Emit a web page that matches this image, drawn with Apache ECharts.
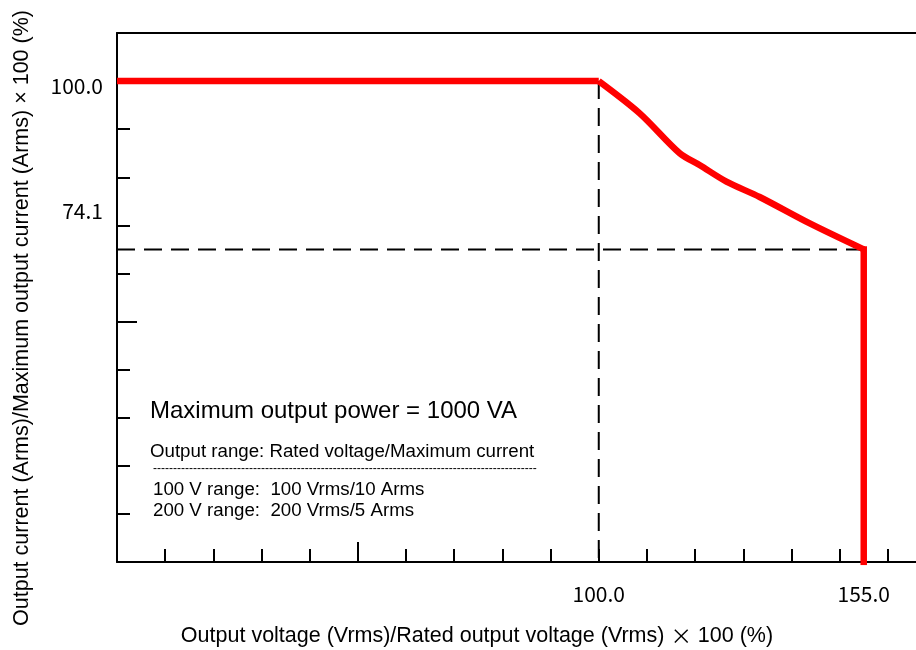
<!DOCTYPE html>
<html>
<head>
<meta charset="utf-8">
<script src="https://cdn.jsdelivr.net/npm/echarts@6/dist/echarts.min.js"></script>
<style>
  html, body { margin: 0; padding: 0; background: #fff; }
  #chart { width: 916px; height: 650px; }
</style>
</head>
<body>
<div id="chart"></div>
<script>
// Constant-current section (% of rated voltage, % of maximum current)
const flatX = [0, 100];
const flatY = [100, 100];
// Constant-power section up to the voltage limit
const powerX = [100, 108.5, 116.8, 121, 126.5, 133.4, 143.8, 155];
const powerY = [100, 93.3, 85.0, 82.5, 79.1, 75.9, 70.4, 65];
// Voltage limit drop
const dropX = [155, 155];
const dropY = [65, 0];

// Guide lines: rated voltage and current at the voltage limit
const ratedGuideX = [100, 100];
const ratedGuideY = [100, 0];
const limitGuideX = [0, 155];
const limitGuideY = [65, 65];

// Axis ticks and labelled values
const xTickValues = [10, 20, 30, 40, 60, 70, 80, 90, 100, 110, 120, 130, 140, 150, 160];
const yTickValues = [10, 20, 30, 40, 60, 70, 80, 90, 100];
const majorTickValues = [50];
const xLabelValues = [100, 155];
const yLabelValues = [74.1, 100];

const xTitleParts = ['Output voltage (Vrms)/Rated output voltage (Vrms) ', '\u00d7', ' 100 (%)'];
const yTitle = 'Output current (Arms)/Maximum output current (Arms) \u00d7 100 (%)';
const noteLines = [
  'Maximum output power = 1000 VA',
  'Output range: Rated voltage/Maximum current',
  '100 V range:  100 Vrms/10 Arms',
  '200 V range:  200 Vrms/5 Arms'
];

const pairs = (xs, ys) => xs.map((x, i) => [x, ys[i]]);

const chart = echarts.init(document.getElementById('chart'), null, { renderer: 'canvas' });

const sansFont = 'Liberation Sans, Arial, sans-serif';
const tickRich = {
  v: { fontFamily: 'Noto Sans CJK JP', fontSize: 21, color: '#000', padding: [10, 0, 0, 0] }
};
const tickRichX = {
  v: { fontFamily: 'Noto Sans CJK JP', fontSize: 21, color: '#000' }
};
const axisPen = { color: '#000', width: 2 };
const redLine = { color: '#ff0000', width: 6.5, cap: 'butt', join: 'miter' };
const guideLine = { color: '#000', width: 2, type: [18, 9] };

// an extra axis that only draws tick marks
const tickOnlyX = (values, length) => ({
  type: 'value', min: 0, max: 170, position: 'bottom',
  axisLine: { show: false },
  axisTick: { show: true, inside: true, length, customValues: values, lineStyle: axisPen },
  axisLabel: { show: false },
  splitLine: { show: false }
});

chart.setOption({
  animation: false,
  backgroundColor: '#fff',
  // the frame runs on past the right edge of the canvas
  grid: { left: 117, top: 33, width: 819, height: 529, show: false, outerBoundsMode: 'none' },
  xAxis: [
    {
      type: 'value', min: 0, max: 170, interval: 10,
      axisLine: { show: true, lineStyle: axisPen },
      axisTick: { show: false },
      splitLine: { show: false },
      axisLabel: {
        show: true, customValues: xLabelValues, margin: 22,
        formatter: v => '{v|' + v.toFixed(1) + '}', rich: tickRichX
      }
    },
    tickOnlyX(xTickValues, 13),
    tickOnlyX(majorTickValues, 20),
    {
      // top frame line
      type: 'value', min: 0, max: 170, position: 'top',
      axisLine: { show: true, lineStyle: axisPen },
      axisTick: { show: false },
      axisLabel: { show: false },
      splitLine: { show: false }
    }
  ],
  yAxis: [
    {
      type: 'value', min: 0, max: 110, interval: 10,
      axisLine: { show: true, lineStyle: axisPen },
      axisTick: { show: true, inside: true, length: 13, customValues: yTickValues, lineStyle: axisPen },
      splitLine: { show: false },
      axisLabel: {
        show: true, customValues: yLabelValues, margin: 14,
        formatter: v => '{v|' + v.toFixed(1) + '}', rich: tickRich
      }
    },
    {
      type: 'value', min: 0, max: 110, position: 'left',
      axisLine: { show: false },
      axisTick: { show: true, inside: true, length: 20, customValues: majorTickValues, lineStyle: axisPen },
      axisLabel: { show: false },
      splitLine: { show: false }
    }
  ],
  series: [
    { type: 'line', data: pairs(ratedGuideX, ratedGuideY), symbol: 'none', silent: true, lineStyle: guideLine },
    { type: 'line', data: pairs(limitGuideX, limitGuideY), symbol: 'none', silent: true, lineStyle: guideLine },
    { type: 'line', data: pairs(flatX, flatY), symbol: 'none', silent: true, lineStyle: redLine },
    {
      type: 'line', data: pairs(powerX, powerY), symbol: 'none', silent: true,
      smooth: 0.3, lineStyle: redLine
    },
    {
      type: 'line', data: pairs(dropX, dropY), symbol: 'none', silent: true,
      lineStyle: { ...redLine, cap: 'square' }
    }
  ],
  graphic: [
    {
      type: 'text', x: 477, y: 636, silent: true,
      style: {
        text: '{a|' + xTitleParts[0] + '}{b|' + xTitleParts[1] + '}{a|' + xTitleParts[2] + '}',
        align: 'center', verticalAlign: 'middle', fill: '#000',
        rich: {
          a: { font: '21.5px ' + sansFont, fill: '#000' },
          b: { font: '21.5px "Noto Sans CJK JP"', fill: '#000' }
        }
      }
    },
    {
      type: 'text', x: 22, y: 318, rotation: Math.PI / 2, silent: true,
      style: { text: yTitle, fill: '#000', font: '21.5px ' + sansFont, align: 'center', verticalAlign: 'middle' }
    },
    {
      type: 'text', x: 150, y: 411, silent: true,
      style: { text: noteLines[0], fill: '#000', font: '24px ' + sansFont, verticalAlign: 'middle' }
    },
    {
      type: 'text', x: 150, y: 452, silent: true,
      style: { text: noteLines[1], fill: '#000', font: '18.7px ' + sansFont, verticalAlign: 'middle' }
    },
    {
      type: 'text', x: 153, y: 469, silent: true,
      style: { text: '-'.repeat(96), fill: '#000', font: '12px ' + sansFont, verticalAlign: 'middle' }
    },
    {
      type: 'text', x: 153, y: 490, silent: true,
      style: { text: noteLines[2], fill: '#000', font: '18.7px ' + sansFont, verticalAlign: 'middle' }
    },
    {
      type: 'text', x: 153, y: 511, silent: true,
      style: { text: noteLines[3], fill: '#000', font: '18.7px ' + sansFont, verticalAlign: 'middle' }
    }
  ]
});
</script>
</body>
</html>
